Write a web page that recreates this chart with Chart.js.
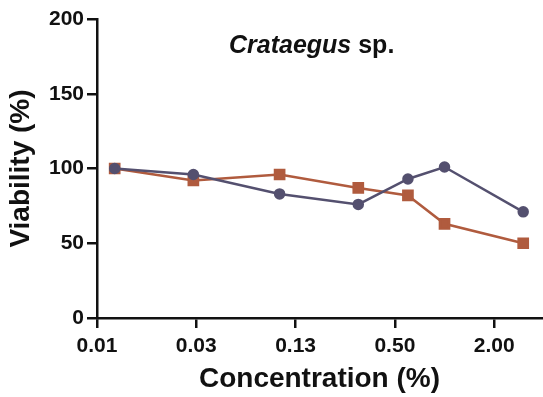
<!DOCTYPE html>
<html>
<head>
<meta charset="utf-8">
<script src="https://cdn.jsdelivr.net/npm/chart.js@4"></script>
<style>
  html, body { margin: 0; padding: 0; background: #fff; }
  #wrap { position: relative; width: 543px; height: 397px; }
  #titulo {
    position: absolute; left: 229px; top: 30px;
    font: bold 25px "Liberation Sans", Arial, sans-serif; color: #111;
    white-space: nowrap;
  }
</style>
</head>
<body>
<div id="wrap">
  <canvas id="grafico" width="543" height="397"></canvas>
  <div id="titulo"><i>Crataegus</i> sp.</div>
</div>
<script>
// Datos
var concentraciones = [0.01, 0.03, 0.1, 0.3, 0.6, 1, 3];
var serieCirculos = [100, 96, 83, 76, 93, 101, 71];
var serieCuadrados = [100, 92, 96, 87, 82, 63, 50];
var ticksX = [0.0078125, 0.03125, 0.125, 0.5, 2];
var etiquetasX = ['0.01', '0.03', '0.13', '0.50', '2.00'];
var ticksY = [0, 50, 100, 150, 200];

function puntos(serie) {
  return serie.map((v, i) => ({ x: concentraciones[i], y: v }));
}

var fuente = 'Liberation Sans, Arial, sans-serif';
var ctx = document.getElementById('grafico').getContext('2d');
var chart = new Chart(ctx, {
  type: 'line',
  data: {
    datasets: [{
      label: 'circulos',
      data: puntos(serieCirculos),
      borderColor: '#54506f',
      backgroundColor: '#54506f',
      borderWidth: 2.5,
      pointStyle: 'circle',
      pointRadius: 4.5,
      tension: 0
    }, {
      label: 'cuadrados',
      data: puntos(serieCuadrados),
      borderColor: '#b05b3e',
      backgroundColor: '#b05b3e',
      borderWidth: 2.5,
      pointStyle: 'rect',
      pointRadius: 6.5,
      tension: 0
    }]
  },
  options: {
    responsive: false,
    animation: false,
    layout: { autoPadding: false, padding: { top: 19, right: 1, left: 0, bottom: 0 } },
    plugins: { legend: { display: false }, tooltip: { enabled: false } },
    scales: {
      x: {
        type: 'logarithmic',
        min: 0.0078125,
        max: 3.9,
        afterBuildTicks: function(scale) {
          scale.ticks = ticksX.map(v => ({ value: v }));
        },
        afterFit: function(scale) {
          scale.height = 79;
          scale.paddingLeft = 0;
          scale.paddingRight = 0;
        },
        grid: { drawOnChartArea: false, color: '#111', lineWidth: 2.5, tickLength: 10 },
        border: { color: '#111', width: 2.5 },
        ticks: {
          color: '#111', padding: 6, maxRotation: 0, autoSkip: false,
          font: { family: fuente, size: 21, weight: 'bold' },
          callback: function(value) {
            var i = ticksX.indexOf(value);
            return i >= 0 ? etiquetasX[i] : '';
          }
        },
        title: {
          display: true, text: 'Concentration (%)', color: '#111',
          font: { family: fuente, size: 28, weight: 'bold' },
          padding: { top: 0, bottom: 1 }
        }
      },
      y: {
        min: 0,
        max: 200,
        afterBuildTicks: function(scale) {
          scale.ticks = ticksY.map(v => ({ value: v }));
        },
        afterFit: function(scale) { scale.width = 97; },
        grid: { drawOnChartArea: false, color: '#111', lineWidth: 2.5, tickLength: 10 },
        border: { color: '#111', width: 2.5 },
        ticks: {
          color: '#111', padding: 3,
          font: { family: fuente, size: 21, weight: 'bold' }
        },
        title: {
          display: true, text: 'Viability (%)', color: '#111',
          font: { family: fuente, size: 28, weight: 'bold' },
          padding: { top: 4, bottom: 0 }
        }
      }
    }
  }
});
</script>
</body>
</html>
